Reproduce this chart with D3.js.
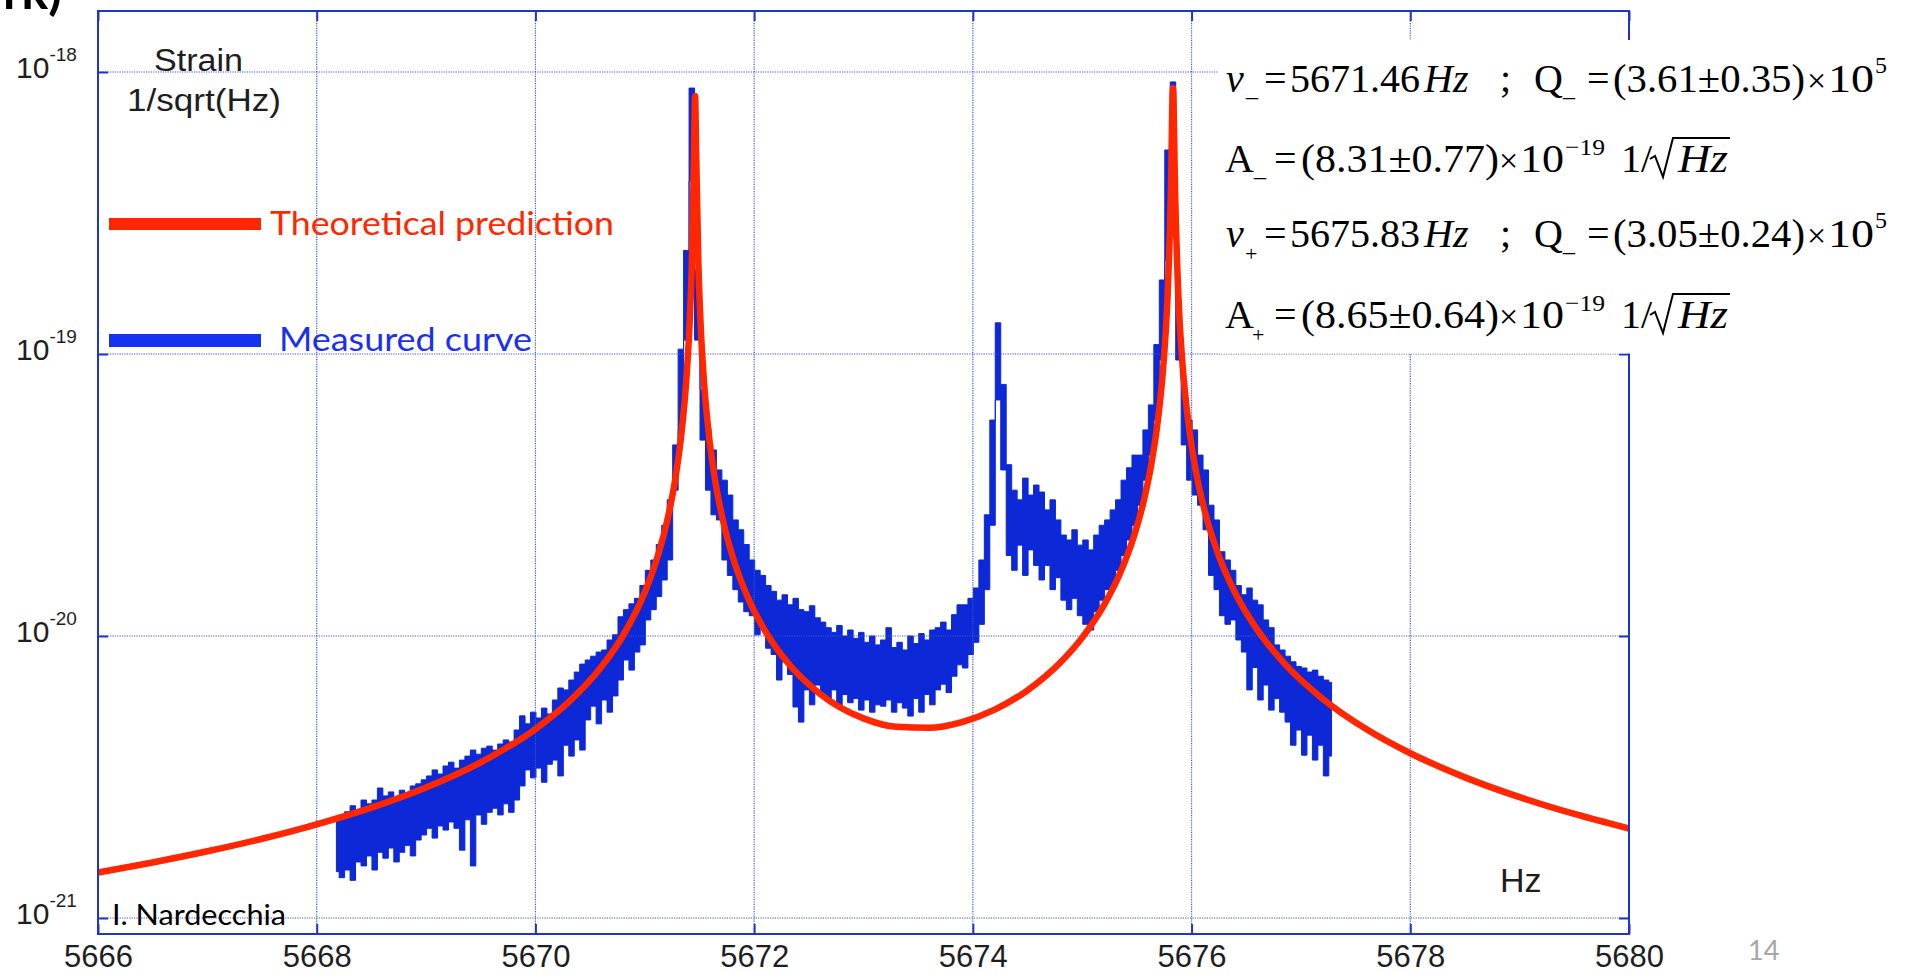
<!DOCTYPE html>
<html>
<head>
<meta charset="utf-8">
<script src="https://cdn.jsdelivr.net/npm/d3@7"></script>
<style>
  html, body { margin: 0; padding: 0; background: #ffffff; }
  svg { display: block; }
</style>
</head>
<body>
<svg id="chart" width="1908" height="975"></svg>
<script>
// ---------------- DATA ----------------
const xTicks = [5666, 5668, 5670, 5672, 5674, 5676, 5678, 5680];
const xTickLabels = ["5666", "5668", "5670", "5672", "5674", "5676", "5678", "5680"];
const yTicks = [1e-21, 1e-20, 1e-19, 1e-18];
const yTickExponents = ["-21", "-20", "-19", "-18"];

const strainUnit = 1e-21; // all strain values below are in units of 1e-21 1/sqrt(Hz)

// Theoretical prediction (red)
const theoryHz = [5666, 5666.5, 5667, 5667.5, 5668, 5668.5, 5669, 5669.5, 5670, 5670.3, 5670.6, 5670.8,
  5671.0, 5671.1, 5671.2, 5671.28, 5671.34, 5671.38, 5671.41, 5671.43, 5671.45, 5671.46, 5671.47,
  5671.49, 5671.51, 5671.54, 5671.58, 5671.64, 5671.72, 5671.82, 5671.95, 5672.1, 5672.3, 5672.6,
  5673.0, 5673.3, 5673.6, 5673.9, 5674.2, 5674.5, 5674.8, 5675.0, 5675.2, 5675.35, 5675.47, 5675.56,
  5675.63, 5675.69, 5675.74, 5675.78, 5675.81, 5675.83, 5675.85, 5675.88, 5675.92, 5675.97, 5676.04,
  5676.13, 5676.25, 5676.4, 5676.6, 5676.85, 5677.2, 5677.6, 5678, 5678.5, 5679, 5679.5, 5680];
const theoryStrain = [1.449, 1.574, 1.724, 1.910, 2.149, 2.463, 2.904, 3.565, 4.679, 5.813, 7.745, 10.02,
  14.29, 18.21, 25.16, 36.28, 54.31, 81.25, 129.0, 210.5, 513, 822, 513,
  210.5, 129.0, 81.25, 54.3, 36.29, 25.18, 18.24, 13.48, 10.43, 8.099, 6.244,
  5.104, 4.765, 4.725, 4.954, 5.482, 6.420, 8.054, 9.869, 12.89, 16.84, 22.41, 29.82,
  40.22, 57.4, 88.95, 158.2, 364.8, 877, 364.8, 158.2, 88.95, 57.4, 38.30,
  26.85, 19.20, 14.18, 10.53, 7.981, 5.983, 4.669, 3.840, 3.153, 2.682, 2.338, 2.076];

// Measured curve (blue): spectrum bins, upper and lower envelope of the noisy trace per bin
const measuredStartHz = 5668.18;
const measuredStepHz = 0.05;
const measuredHigh = [2.26,2.32,2.38,2.50,2.41,2.62,2.54,2.62,2.89,
  2.71,2.80,2.66,2.84,2.76,2.94,2.99,
  3.09,3.19,3.35,3.24,3.46,3.57,3.40,3.63,3.75,3.94,3.81,4.00,
  4.07,3.94,4.14,4.28,4.21,4.64,
  5.21,4.88,5.37,5.12,5.55,5.29,
  5.93,6.54,6.44,6.98,7.45,7.95,
  8.22,8.48,8.77,8.92,9.68,10.1,
  11.7,12.4,13.0,13.6,15.1,
  17.1,18.6,21.1,24.7,30.4,
  47.6,104,233,877,199,74.6,54.5,45.7,
  38.8,35.7,31.6,25.8,23.8,21.1,18.6,17.1,16.4,15.1,
  14.4,13.4,14.0,12.9,13.6,12.4,
  12.2,12.8,11.6,11.2,
  10.7,10.3,10.9,10.0,10.5,
  9.8,10.3,9.5,10.0,9.3,
  9.68,10.7,9.1,9.5,8.92,
  10.0,9.4,10.2,9.68,10.5,
  10.7,11.2,10.5,11.9,12.9,
  12.9,13.6,14.8,18.6,26.9,58.3,129,78,40.5,
  32.9,30.4,36.3,31.6,34.3,
  32.4,28.0,30.4,25.8,
  22.8,21.9,23.8,21.0,
  21.9,20.2,22.8,24.7,
  25.8,28.0,30.4,35.7,39.5,43.8,
  43.8,53.8,66,108,183,529,922,155,
  80.9,58.3,53.8,43.8,38.8,29.1,25.8,19.9,18.6,17.1,15.1,14.0,14.8,13.4,12.9,11.4,10.7,9.3,8.92,8.48,8.1,7.8,7.7,7.45,7.57,7.2,6.98,6.85];
const measuredLow = [1.46,1.39,1.48,1.36,1.58,1.53,1.66,1.48,1.71,
  1.63,1.77,1.58,1.71,1.81,1.66,1.89,
  1.97,2.08,1.92,2.12,2.05,2.19,2.08,1.74,2.23,1.53,2.32,2.15,
  2.37,2.45,2.32,2.54,2.37,2.62,
  2.94,3.35,3.14,3.40,3.03,3.51,
  3.63,3.19,4.10,3.75,4.28,3.94,
  5.04,5.64,4.88,5.93,5.37,6.13,
  6.98,8.22,7.57,8.77,9.3,
  11.4,12.4,13.8,15.8,18.6,
  32.9,53.8,112,410,112,49.5,32.9,26.9,
  25.8,18.6,16.4,14.6,13.2,12.2,11.8,10.1,10.6,9.05,
  8.6,6.98,8.1,7.3,5.6,4.95,
  6.44,5.7,6.7,6.13,
  5.93,6.44,5.64,6.2,5.8,
  6.0,5.46,5.93,5.37,5.7,
  5.64,5.93,5.37,5.8,5.55,
  5.2,6.0,5.37,6.2,5.7,
  6.44,6.75,6.3,7.2,7.9,
  7.7,8.6,9.5,11.0,14.6,24.7,68.7,38.8,19.3,
  17.1,21.0,16.4,20.2,17.8,
  15.8,17.8,14.6,16.1,
  13.4,12.4,13.6,11.8,
  11.0,10.5,12.2,13.4,
  14.6,15.1,17.1,19.3,21.9,24.7,
  29.1,35.7,43.8,58.3,95.2,215,410,95.2,
  47.6,35.7,31.6,29.1,23.8,16.4,14.6,11.8,11.0,11.4,9.68,8.77,6.44,7.73,5.93,6.7,5.46,6.0,5.37,4.95,4.10,4.64,3.78,4.45,3.63,4.10,3.19,3.75];

const legendLabels = ["Theoretical prediction", "Measured curve"];

// ---------------- LAYOUT ----------------
const svg = d3.select("#chart");
const plot = { left: 98, right: 1629, top: 11, bottom: 934 };
const x = d3.scaleLinear().domain([5666, 5680]).range([plot.left, plot.right]);
const y = d3.scaleLog().domain([1e-21, 1e-18]).range([918, 72]);

const RED = "#ff2600";
const BLUE = "#0c28d7";
const FRAME = "#1f35c8";
const GRID = "#3f55cc";

svg.append("rect").attr("width", 1908).attr("height", 975).attr("fill", "#fff");

// measured (blue) band
const measured = measuredHigh.map((h, i) => ({
  f: measuredStartHz + i * measuredStepHz, hi: h * strainUnit, lo: measuredLow[i] * strainUnit
}));
svg.append("path")
  .datum(measured)
  .attr("fill", BLUE)
  .attr("stroke", BLUE)
  .attr("stroke-width", 1)
  .attr("d", d3.area().curve(d3.curveStep)
    .x(d => x(d.f)).y0(d => y(d.lo)).y1(d => y(d.hi)));

// grid
const gridG = svg.append("g").attr("stroke", GRID).attr("stroke-width", 1.2)
  .attr("stroke-dasharray", "1.2,1.2");
gridG.selectAll("line.v").data(xTicks.slice(1, -1)).join("line")
  .attr("x1", d => x(d)).attr("x2", d => x(d))
  .attr("y1", plot.top).attr("y2", plot.bottom);
gridG.selectAll("line.h").data(yTicks).join("line")
  .attr("x1", plot.left).attr("x2", plot.right)
  .attr("y1", d => y(d)).attr("y2", d => y(d));

// theoretical (red) curve
const theory = theoryHz.map((f, i) => ({ f, v: theoryStrain[i] * strainUnit }));
svg.append("path")
  .datum(theory)
  .attr("fill", "none")
  .attr("stroke", RED)
  .attr("stroke-width", 6.5)
  .attr("d", d3.line().curve(d3.curveMonotoneX).x(d => x(d.f)).y(d => y(d.v)));

// frame
svg.append("rect")
  .attr("x", plot.left).attr("y", plot.top)
  .attr("width", plot.right - plot.left).attr("height", plot.bottom - plot.top)
  .attr("fill", "none").attr("stroke", FRAME).attr("stroke-width", 2);

// axes (inside ticks)
function styleAxis(g) {
  g.select(".domain").remove();
  g.selectAll(".tick line").attr("stroke", FRAME).attr("stroke-width", 2);
}
const bottomAxis = svg.append("g").attr("transform", `translate(0,${plot.bottom})`)
  .call(d3.axisBottom(x).tickValues(xTicks).tickFormat((d, i) => xTickLabels[i])
    .tickSizeInner(-10).tickSizeOuter(0))
  .call(styleAxis);
bottomAxis.selectAll(".tick text")
  .attr("y", 33).attr("dy", null)
  .attr("font-family", "'Liberation Sans', Arial, sans-serif")
  .attr("font-size", 31).attr("fill", "#1e1e1e");

svg.append("g").attr("transform", `translate(0,${plot.top})`)
  .call(d3.axisTop(x).tickValues(xTicks).tickFormat(() => "").tickSizeInner(-10).tickSizeOuter(0))
  .call(styleAxis);

const leftAxis = svg.append("g").attr("transform", `translate(${plot.left},0)`)
  .call(d3.axisLeft(y).tickValues(yTicks).tickFormat(() => "").tickSizeInner(-10).tickSizeOuter(0))
  .call(styleAxis);
leftAxis.selectAll(".tick text").each(function (d, i) {
  const t = d3.select(this)
    .attr("x", 16 - plot.left).attr("y", 5).attr("dy", null)
    .attr("text-anchor", "start")
    .attr("font-family", "'Liberation Sans', Arial, sans-serif")
    .attr("fill", "#1e1e1e");
  t.text(null);
  t.append("tspan").attr("font-size", 30).text("10");
  t.append("tspan").attr("font-size", 19).attr("dy", -17).text(yTickExponents[i]);
});

svg.append("g").attr("transform", `translate(${plot.right},0)`)
  .call(d3.axisRight(y).tickValues(yTicks).tickFormat(() => "").tickSizeInner(-10).tickSizeOuter(0))
  .call(styleAxis);

// axis titles
const sans = "'Liberation Sans', Arial, sans-serif";
svg.append("text").attr("x", 154).attr("y", 71).attr("font-family", sans).attr("font-size", 31)
  .attr("fill", "#1e1e1e").attr("textLength", 89).attr("lengthAdjust", "spacingAndGlyphs").text("Strain");
svg.append("text").attr("x", 127).attr("y", 111).attr("font-family", sans).attr("font-size", 31)
  .attr("fill", "#1e1e1e").attr("textLength", 154).attr("lengthAdjust", "spacingAndGlyphs").text("1/sqrt(Hz)");
svg.append("text").attr("x", 1500).attr("y", 892).attr("font-family", sans).attr("font-size", 34)
  .attr("fill", "#1e1e1e").text("Hz");

// legend
const cal = "Lato, 'Open Sans', sans-serif";
svg.append("rect").attr("x", 109).attr("y", 218).attr("width", 152).attr("height", 12).attr("fill", RED);
svg.append("text").attr("x", 270).attr("y", 235).attr("font-family", cal).attr("font-size", 33)
  .attr("fill", RED).attr("textLength", 344).attr("lengthAdjust", "spacingAndGlyphs").text(legendLabels[0]);
svg.append("rect").attr("x", 109).attr("y", 334).attr("width", 152).attr("height", 13).attr("fill", "#1433f0");
svg.append("text").attr("x", 279).attr("y", 351).attr("font-family", cal).attr("font-size", 33)
  .attr("fill", "#1a30f0").attr("textLength", 253).attr("lengthAdjust", "spacingAndGlyphs").text(legendLabels[1]);

// credit, page number, title fragment
svg.append("text").attr("x", 112).attr("y", 925).attr("font-family", cal).attr("font-size", 28)
  .attr("fill", "#000").attr("textLength", 174).attr("lengthAdjust", "spacingAndGlyphs").text("I. Nardecchia");
svg.append("text").attr("x", 1748).attr("y", 960).attr("font-family", cal).attr("font-size", 27)
  .attr("fill", "#a6a6a6").text("14");
svg.append("text").attr("x", 62).attr("y", 9).attr("text-anchor", "end").attr("font-family", cal)
  .attr("font-weight", "bold").attr("font-size", 50).attr("fill", "#000").text("rk)");

// equations box
svg.append("rect").attr("x", 1218).attr("y", 40).attr("width", 690).attr("height", 313.5).attr("fill", "#fff");
const eqG = svg.append("g").attr("font-family", "'Liberation Serif', 'Times New Roman', serif").attr("fill", "#000");
function eq(xp, yp, str, opts = {}) {
  const t = eqG.append("text").attr("x", xp).attr("y", yp)
    .attr("font-size", opts.size || 40).text(str);
  if (opts.italic) t.attr("font-style", "italic");
  if (opts.w) t.attr("textLength", opts.w).attr("lengthAdjust", "spacingAndGlyphs");
  return t;
}
function radical(baseY) {
  const top = baseY - 34;
  eqG.append("path")
    .attr("d", `M1650,${baseY - 13} L1655,${baseY - 16} L1663,${baseY + 5} L1673,${top} L1730,${top}`)
    .attr("fill", "none").attr("stroke", "#000").attr("stroke-width", 2);
}
function lineNu(yb, sub, freq, qText) {
  eq(1226, yb, "ν", { italic: true });
  if (sub === "+") eq(1245, yb + 14, "+", { size: 22 });
  else eq(1246, yb + 4, "_", { size: 24 });
  eq(1264, yb, "=");
  eq(1290, yb, freq);
  eq(1424, yb, "Hz", { italic: true });
  eq(1500, yb, ";");
  eq(1534, yb, "Q");
  eq(1563, yb + 4, "_", { size: 24 });
  eq(1587, yb, "=");
  eq(1613, yb, qText, { w: 192 });
  eq(1807, yb, "×", { size: 34 });
  eq(1828, yb, "10", { w: 46 });
  eq(1875, yb - 19, "5", { size: 24 });
}
function lineA(yb, sub, aText) {
  eq(1225, yb, "A");
  if (sub === "+") eq(1252, yb + 14, "+", { size: 22 });
  else eq(1254, yb + 4, "_", { size: 24 });
  eq(1274, yb, "=");
  eq(1301, yb, aText, { w: 198 });
  eq(1499, yb, "×", { size: 34 });
  eq(1520, yb, "10", { w: 44 });
  eq(1565, yb - 17, "−19", { size: 24, w: 40 });
  eq(1621, yb, "1/");
  radical(yb);
  eq(1678, yb, "Hz", { italic: true, w: 50 });
}
lineNu(92, "-", "5671.46", "(3.61±0.35)");
lineA(172, "-", "(8.31±0.77)");
lineNu(247, "+", "5675.83", "(3.05±0.24)");
lineA(328, "+", "(8.65±0.64)");
</script>
</body>
</html>
